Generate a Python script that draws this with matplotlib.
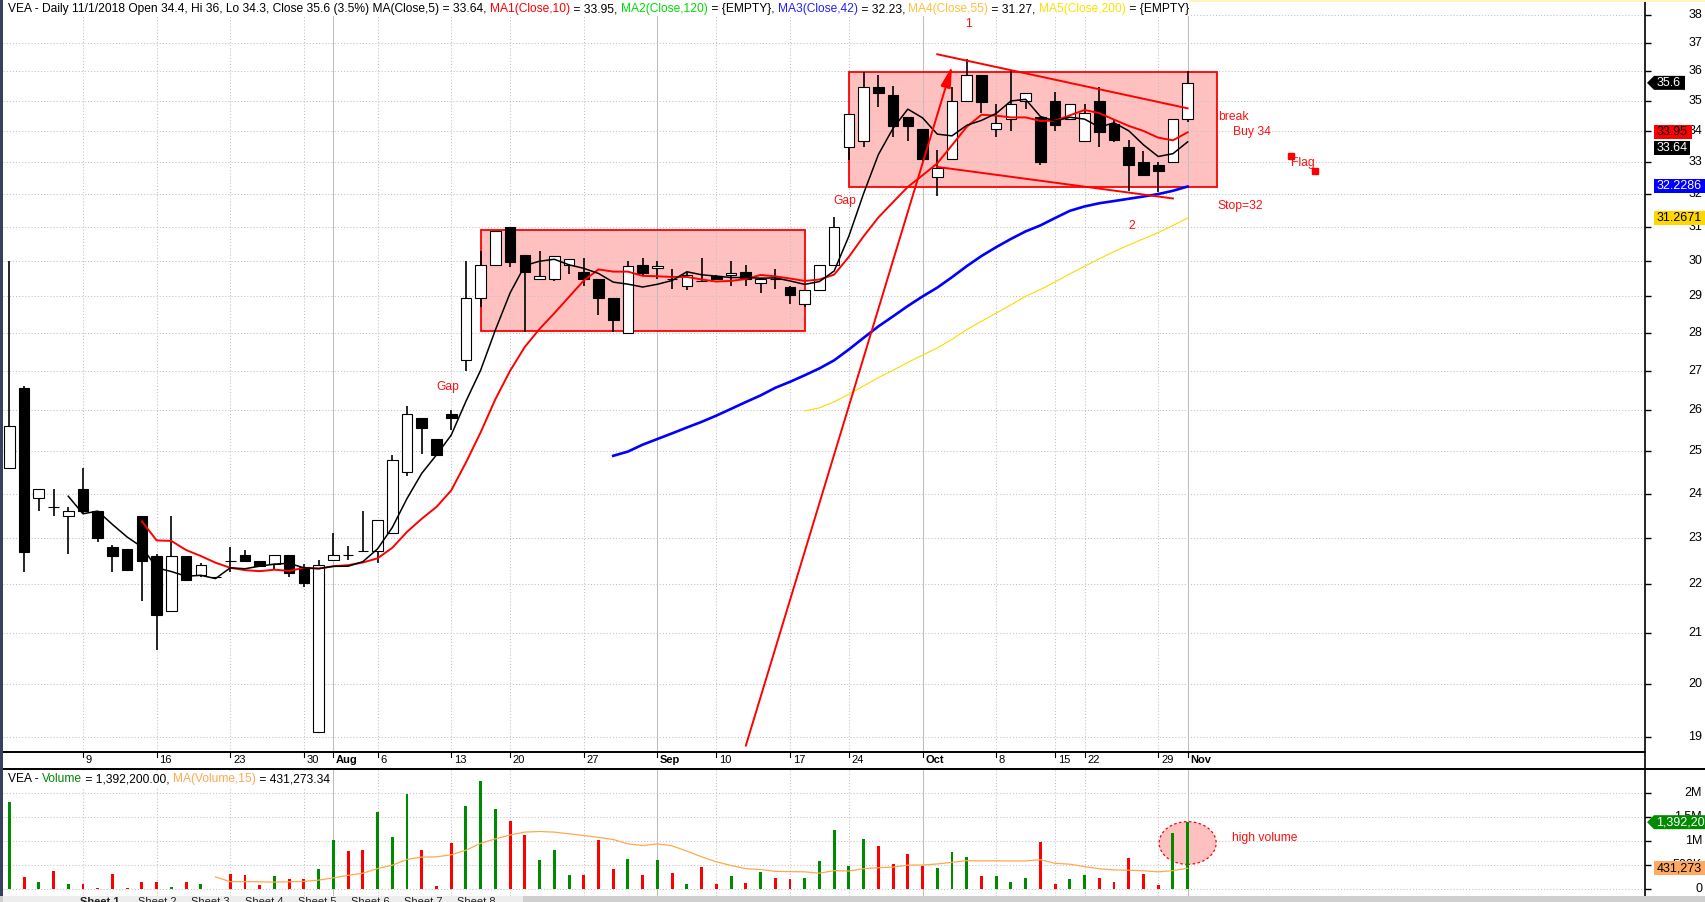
import numpy as np
import pandas as pd
import matplotlib
matplotlib.use("Agg")
import matplotlib.pyplot as plt
from matplotlib.patches import Rectangle, Polygon, Ellipse
from matplotlib.lines import Line2D
from matplotlib.transforms import blended_transform_factory, IdentityTransform

plt.rcParams['font.family'] = ['Liberation Sans', 'DejaVu Sans']

# ---------------- VEA daily bars ----------------
opens = [24.6, 26.55, 23.9, 23.7, 23.5, 24.1, 23.6, 22.8, 22.75, 23.5,
         22.6, 21.45, 22.6, 22.2, 22.15, 22.5, 22.62, 22.5, 22.43, 22.63,
         22.36, 19.1, 22.51, 22.63, 22.72, 22.72, 23.1, 24.5, 25.8, 25.3,
         25.9, 27.28, 28.97, 29.88, 31.0, 30.17, 29.48, 29.48, 29.88, 29.68,
         29.48, 28.95, 28.0, 29.88, 29.79, 29.48, 29.29, 29.44, 29.58, 29.59,
         29.68, 29.39, 29.49, 29.27, 28.78, 29.18, 29.88, 33.46, 33.66, 35.47,
         35.18, 34.46, 34.07, 32.51, 33.1, 34.98, 35.86, 34.07, 34.37, 34.98,
         34.46, 34.98, 34.37, 33.66, 34.98, 34.23, 33.48, 33.01, 32.9, 33.01,
         34.4]
highs = [30.0, 26.6, 24.1, 24.1, 23.7, 24.6, 23.6, 22.85, 22.75, 23.5,
         22.65, 23.5, 22.6, 22.45, 22.15, 22.8, 22.73, 22.5, 22.62, 22.63,
         22.43, 22.52, 23.1, 22.82, 23.6, 23.41, 24.9, 26.1, 25.8, 25.3,
         26.0, 30.0, 30.3, 30.87, 31.0, 30.17, 30.28, 30.16, 30.07, 30.08,
         29.48, 28.95, 30.0, 30.08, 30.0, 29.78, 29.68, 30.08, 29.6, 30.0,
         29.88, 29.49, 29.78, 29.3, 29.18, 29.88, 31.29, 34.55, 35.98, 35.86,
         35.49, 34.46, 34.07, 33.38, 35.47, 36.44, 35.86, 34.89, 36.03, 35.26,
         34.46, 35.28, 34.88, 34.88, 35.47, 34.34, 33.69, 33.36, 33.0, 34.4,
         36.0]
lows = [24.6, 22.25, 23.6, 23.5, 22.65, 23.55, 22.9, 22.25, 22.3, 21.65,
        20.65, 21.45, 22.1, 22.15, 22.15, 22.25, 22.5, 22.38, 22.33, 22.15,
        21.95, 19.08, 22.51, 22.52, 22.72, 22.45, 23.1, 24.42, 24.92, 24.9,
        25.5, 27.0, 28.7, 29.88, 29.82, 28.02, 29.48, 29.42, 29.62, 29.3,
        28.5, 28.02, 28.0, 29.6, 29.5, 29.2, 29.18, 29.42, 29.45, 29.29,
        29.28, 29.1, 29.2, 28.79, 28.72, 29.18, 29.88, 33.06, 33.48, 34.79,
        33.8, 33.67, 33.0, 31.93, 33.1, 34.98, 34.59, 33.8, 33.99, 34.71,
        32.91, 33.99, 34.37, 33.66, 33.48, 33.64, 32.09, 32.59, 32.05, 33.01,
        34.3]
closes = [25.6, 22.7, 24.1, 23.7, 23.6, 23.6, 23.0, 22.6, 22.3, 22.5,
          21.35, 22.6, 22.1, 22.4, 22.15, 22.5, 22.5, 22.38, 22.62, 22.23,
          22.02, 22.42, 22.62, 22.63, 22.72, 23.41, 24.78, 25.9, 25.55, 24.9,
          25.8, 28.97, 29.88, 30.87, 29.98, 29.68, 29.58, 30.16, 30.07, 29.48,
          28.95, 28.35, 29.87, 29.67, 29.87, 29.48, 29.59, 29.44, 29.48, 29.67,
          29.48, 29.49, 29.49, 29.05, 29.18, 29.88, 30.99, 34.55, 35.47, 35.26,
          34.14, 34.15, 33.1, 32.8, 34.98, 35.86, 34.96, 34.25, 34.88, 35.26,
          33.0, 34.2, 34.88, 34.57, 33.95, 33.7, 32.9, 32.6, 32.7, 34.4,
          35.6]
# volume in millions of shares
volumes = [1.82, 0.257, 0.153, 0.375, 0.104, 0.111, 0.02, 0.3125, 0.02, 0.153,
           0.153, 0.042, 0.153, 0.104, 0.0, 0.32, 0.29, 0.09, 0.278, 0.215,
           0.215, 0.424, 1.02, 0.80, 0.82, 1.61, 1.09, 1.98, 0.82, 0.07,
           0.96, 1.73, 2.25, 1.67, 1.42, 1.125, 0.60, 0.82, 0.29, 0.29,
           1.02, 0.417, 0.625, 0.29, 0.60, 0.333, 0.104, 0.458, 0.104, 0.27,
           0.125, 0.354, 0.229, 0.208, 0.229, 0.583, 1.23, 0.486, 1.04, 0.896,
           0.52, 0.73, 0.486, 0.4375, 0.77, 0.667, 0.27, 0.27, 0.146, 0.229,
           0.975, 0.104, 0.208, 0.29, 0.229, 0.146, 0.646, 0.3125, 0.083, 1.17,
           1.3922]

date_labels = ['9', '16', '23', '30', 'Aug', '6', '13', '20', '27', 'Sep',
               '10', '17', '24', 'Oct', '8', '15', '22', '29', 'Nov']
date_label_bars = [5, 10, 15, 20, 22, 25, 30, 34, 39, 44,
                   48, 53, 57, 62, 67, 71, 73, 78, 80]
month_labels = ['Aug', 'Sep', 'Oct', 'Nov']

price_ticks = list(range(19, 39))
volume_ticks = [0, 0.5, 1.0, 1.5, 2.0]
volume_tick_labels = ['0', '500K', '1M', '1.5M', '2M']

# last indicator values as reported in the chart titles / axis tags
ma_last = {'MA5': 33.64, 'MA10': 33.95, 'MA42': 32.2286, 'MA55': 31.2671}
ma_title = {'MA5': '33.64', 'MA10': '33.95', 'MA42': '32.23', 'MA55': '31.27'}
vol_ma_last = 431273.34

# ---------------- layout ----------------
W, H = 1706, 902
fig = plt.figure(figsize=(W / 100, H / 100), dpi=100)
fig.patch.set_facecolor('white')


def fig_rect(x0, y0, x1, y1):
    return [x0 / W, 1 - y1 / H, (x1 - x0) / W, (y1 - y0) / H]


AX_L, AX_R = 3, 1645
ax = fig.add_axes(fig_rect(AX_L, 1, AX_R, 752))
axv = fig.add_axes(fig_rect(AX_L, 769, AX_R, 896))

n = len(closes)
x = np.arange(n)
o, h, l, c = (np.array(a, dtype=float) for a in (opens, highs, lows, closes))
vol = np.array(volumes, dtype=float)
up = c > o

XLIM = (-0.43, 111.05)
for a in (ax, axv):
    a.set_xlim(*XLIM)
    for s in a.spines.values():
        s.set_visible(False)
    a.tick_params(axis='x', bottom=False, labelbottom=False)
    a.set_facecolor('white')

ax.set_yscale('log')
ax.set_ylim(18.728, 38.51)
ax.yaxis.set_major_locator(matplotlib.ticker.FixedLocator(price_ticks))
ax.yaxis.set_minor_locator(matplotlib.ticker.NullLocator())
ax.tick_params(axis='y', which='both', left=False, labelleft=False, right=True,
               labelright=False, direction='out', length=4, width=1)
axv.set_ylim(-0.146, 2.5)
axv.yaxis.set_major_locator(matplotlib.ticker.FixedLocator(volume_ticks))
axv.tick_params(axis='y', left=False, labelleft=False, right=True,
                labelright=False, direction='out', length=4, width=1)

GRID = '#C0C0C0'
DOT = (0, (1, 2))
for v in price_ticks:
    ax.axhline(v, color=GRID, lw=0.75, ls=DOT, zorder=1)
for v in volume_ticks:
    axv.axhline(v, color=GRID, lw=0.75, ls=DOT, zorder=1)
for i, lab in zip(date_label_bars, date_labels):
    month = lab in month_labels
    for a in (ax, axv):
        a.axvline(i, color='#BEBEBE' if month else GRID, lw=0.75,
                  ls='-' if month else DOT, zorder=1)

# ---------------- annotated boxes ----------------
for (b0, b1, p0, p1) in [(32, 54, 28.05, 30.91), (57, 82, 32.21, 35.98)]:
    ax.add_patch(Rectangle((b0, p0), b1 - b0, p1 - p0, facecolor='#FFC0C0',
                           edgecolor='none', zorder=0.8))
    ax.add_patch(Rectangle((b0, p0), b1 - b0, p1 - p0, facecolor='none',
                           edgecolor='#FF0000', lw=1.3, zorder=2))

# ---------------- candles ----------------
ax.vlines(x, l, h, color='black', lw=1.2, zorder=3)
body_lo = np.minimum(o, c)
body_hi = np.maximum(o, c)
ax.bar(x, body_hi - body_lo, bottom=body_lo, width=0.72,
       color=np.where(up, 'white', 'black'), edgecolor='black', linewidth=0.8,
       zorder=4)

# ---------------- moving averages ----------------
cs = pd.Series(c)
ax.plot(x, cs.rolling(55).mean(), color='#FFD800', lw=0.8, zorder=5)
ax.plot(x, cs.rolling(42).mean(), color='#0000FF', lw=1.9, zorder=5)
ax.plot(x, cs.rolling(10).mean(), color='#FF0000', lw=1.4, zorder=5)
ax.plot(x, cs.rolling(5).mean(), color='black', lw=1.1, zorder=5)

# ---------------- trend lines and notes ----------------
ax.plot([63, 80], [36.59, 34.74], color='#FF0000', lw=1.4, zorder=6)
ax.plot([63, 79], [32.84, 31.86], color='#FF0000', lw=1.4, zorder=6)
ax.annotate('', xy=(64, 36.17), xytext=(50, 18.84),
            arrowprops=dict(arrowstyle='-|>,head_length=0.9,head_width=0.22',
                            mutation_scale=14, color='#FF0000', lw=1.4,
                            shrinkA=0, shrinkB=0), zorder=7)

RED = '#FF1010'
NOTE = 8.7
ax.text(65.15, 37.66, '1', color=RED, fontsize=NOTE, ha='center', va='center')
ax.text(76.2, 31.02, '2', color=RED, fontsize=NOTE, ha='center', va='center')
ax.text(29.76, 26.59, 'Gap', color=RED, fontsize=NOTE, ha='center', va='center')
ax.text(56.73, 31.78, 'Gap', color=RED, fontsize=NOTE, ha='center', va='center')
ax.text(82.05, 34.46, 'break', color=RED, fontsize=NOTE, ha='left', va='center', clip_on=False)
ax.text(83.05, 33.95, 'Buy 34', color=RED, fontsize=NOTE, ha='left', va='center')
ax.text(87.0, 32.95, 'Flag', color=RED, fontsize=NOTE, ha='left', va='center')
ax.plot([86.99, 88.66], [33.2, 32.71], 's', color='#FF0000', ms=4, zorder=6)
ax.text(82.0, 31.63, 'Stop=32', color=RED, fontsize=NOTE, ha='left', va='center')

# ---------------- volume ----------------
axv.add_patch(Ellipse((80, 0.958), 3.87, 0.89, facecolor='#FFC0C0',
                      edgecolor='#FF0000', ls=(0, (2, 2)), lw=0.9, zorder=2))
axv.bar(x, vol, width=0.2, color=np.where(up, '#008A00', '#FF0000'), zorder=3)
axv.plot(x, pd.Series(vol).rolling(15).mean(), color='#FFA850', lw=0.9, zorder=4)
axv.text(83.0, 1.069, 'high volume', color=RED, fontsize=NOTE, ha='left', va='center')

# ---------------- axis labels ----------------
TICK_FS = 9.0
for v in price_ticks:
    ax.annotate(str(v), xy=(1, v), xycoords=('axes fraction', 'data'),
                xytext=(57 * 0.72, 0), textcoords='offset points',
                ha='right', va='center', fontsize=TICK_FS, annotation_clip=False)
for v, lab in zip(volume_ticks, volume_tick_labels):
    axv.annotate(lab, xy=(1, v), xycoords=('axes fraction', 'data'),
                 xytext=(57 * 0.72, 0), textcoords='offset points',
                 ha='right', va='center', fontsize=TICK_FS, annotation_clip=False)

btrans = blended_transform_factory(ax.transData, ax.transAxes)
for i, lab in zip(date_label_bars, date_labels):
    ax.plot([i, i], [0, -5 / 751], transform=btrans, color='black', lw=0.8,
            clip_on=False, zorder=6)
    ax.annotate(lab, xy=(i, 0), xycoords=btrans, xytext=(2.0, -8 * 0.72),
                textcoords='offset points', ha='left', va='center',
                fontsize=8.0, fontweight='bold' if lab in month_labels else 'normal',
                annotation_clip=False)

# frame lines (pixel coordinates, y from the top)
IDT = IdentityTransform()


def hline(y, x0, x1, lw):
    fig.add_artist(Line2D([x0, x1], [H - y, H - y], color='black', lw=lw,
                          transform=IDT, zorder=6))


def vline(xp, y0, y1, lw):
    fig.add_artist(Line2D([xp, xp], [H - y0, H - y1], color='black', lw=lw,
                          transform=IDT, zorder=6))


hline(752, AX_L, AX_R, 1.4)
hline(769, AX_L, W, 1.4)
vline(AX_R, 0, 897, 1.2)
fig.add_artist(Rectangle((0, H - 2), W, 2, facecolor='#FFF3C0', edgecolor='none',
                         transform=IDT, zorder=6))
fig.add_artist(Rectangle((0, 0), 3, H, facecolor='#34425E', edgecolor='none',
                         transform=IDT, zorder=6))
# sheet tab strip
fig.add_artist(Rectangle((0, 0), W, 6, facecolor='#CFCFCF', edgecolor='none',
                         transform=IDT, zorder=6))
fig.add_artist(Rectangle((3, 0), 520, 6, facecolor='#EDEDED', edgecolor='none',
                         transform=IDT, zorder=6))
for k, xp in enumerate([80, 138, 191, 245, 298, 351, 404, 457]):
    fig.text(xp / W, 0.0, 'Sheet %d' % (k + 1), fontsize=8, color='#202020',
             fontweight='bold' if k == 0 else 'normal', ha='left', va='center',
             zorder=7)

# ---------------- titles ----------------
renderer = fig.canvas.get_renderer()


def colored_line(x_px, y_px, pieces, size):
    xp = x_px
    for s, col in pieces:
        t = fig.text(xp / W, 1 - y_px / H, s, color=col, fontsize=size,
                     ha='left', va='center', zorder=8)
        xp += t.get_window_extent(renderer=renderer).width
    return xp


pct = (c[-1] / c[-2] - 1) * 100
title = [
    ("VEA - Daily 11/1/2018 Open %g, Hi %g, Lo %g, Close %g (%.1f%%) MA(Close,5) = %s, "
     % (o[-1], h[-1], l[-1], c[-1], pct, ma_title['MA5']), 'black'),
    ("MA1(Close,10)", '#FF0000'), (" = %s, " % ma_title['MA10'], 'black'),
    ("MA2(Close,120)", '#00DD00'), (" = {EMPTY}, ", 'black'),
    ("MA3(Close,42)", '#2020FF'), (" = %s, " % ma_title['MA42'], 'black'),
    ("MA4(Close,55)", '#FFC040'), (" = %s, " % ma_title['MA55'], 'black'),
    ("MA5(Close,200)", '#FFE000'), (" = {EMPTY}", 'black'),
]
end1 = colored_line(8.4, 9, title, 8.65)
fig.add_artist(Rectangle((3, H - 16), end1 - 3, 16, facecolor='white',
                         edgecolor='none', transform=IDT, zorder=7))

vol_title = [
    ("VEA - ", 'black'), ("Volume", '#008A00'),
    (" = {:,.2f}, ".format(vol[-1] * 1e6), 'black'),
    ("MA(Volume,15)", '#FFA850'), (" = {:,.2f}".format(vol_ma_last), 'black'),
]
end2 = colored_line(8.4, 779, vol_title, 8.65)
fig.add_artist(Rectangle((3, H - 787), end2 - 3, 16, facecolor='white',
                         edgecolor='none', transform=IDT, zorder=7))

# ---------------- value tags on the right axis ----------------


def py_of(axis, v):
    return H - axis.transData.transform((0, v))[1]


def tag(yc, text, face, fg, right, pointer=False):
    half = 7
    yd = H - yc
    if pointer:
        verts = [(1647, yd), (1654, yd + half), (right, yd + half),
                 (right, yd - half), (1654, yd - half)]
    else:
        verts = [(1653.5, yd + half), (right, yd + half),
                 (right, yd - half), (1653.5, yd - half)]
    fig.add_artist(Polygon(verts, closed=True, facecolor=face, edgecolor='none',
                           transform=IDT, zorder=9))
    fig.text(1656.5 / W, yd / H, text, color=fg, fontsize=9.0, ha='left',
             va='center', zorder=10)


tag(py_of(ax, c[-1]), '%g' % c[-1], 'black', 'white', 1685, pointer=True)
y10 = py_of(ax, ma_last['MA10'])
tag(y10, '%.2f' % ma_last['MA10'], '#FF0000', 'black', 1692)
tag(max(py_of(ax, ma_last['MA5']), y10 + 16), '%.2f' % ma_last['MA5'],
    'black', 'white', 1690)
tag(py_of(ax, ma_last['MA42']), '%.4f' % ma_last['MA42'], '#0000FF', 'white', W)
tag(py_of(ax, ma_last['MA55']), '%.4f' % ma_last['MA55'], '#FFD700', 'black', W)
tag(py_of(axv, vol[-1]), '{:,.0f}'.format(vol[-1] * 1e6), '#008A00', 'white', W,
    pointer=True)
tag(py_of(axv, vol_ma_last / 1e6), '{:,.0f}'.format(vol_ma_last), '#FFA860',
    'black', W)

fig.savefig('out.png', dpi=100)
